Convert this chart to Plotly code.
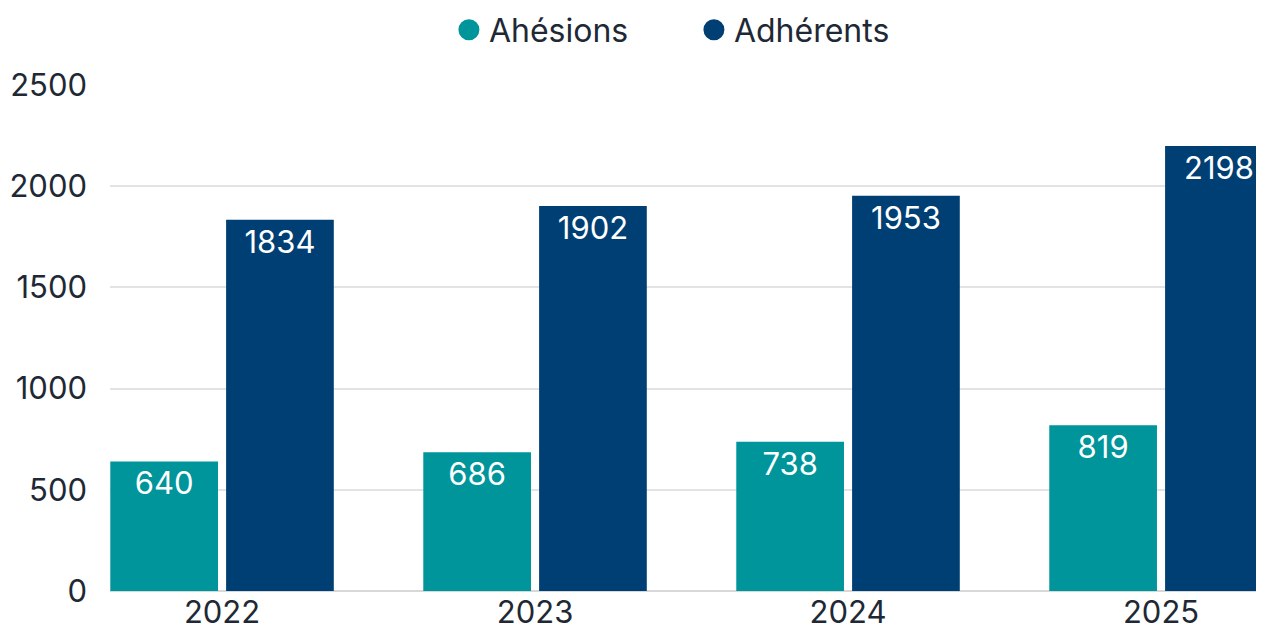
import plotly.graph_objects as go

years = ["2022", "2023", "2024", "2025"]
adhesions = [640, 686, 738, 819]
adherents = [1834, 1902, 1953, 2198]
series_names = ["Ahésions", "Adhérents"]
colors = ["#00959B", "#003F73"]
y_ticks = [0, 500, 1000, 1500, 2000, 2500]

FONT = "Inter, 'Open Sans', sans-serif"
TEXT_COLOR = "#1E2935"

fig = go.Figure()
for name, vals, col in zip(series_names, [adhesions, adherents], colors):
    fig.add_trace(go.Bar(
        x=years, y=vals, name=name, marker_color=col, marker_line_width=0,
        text=[str(v) for v in vals], textposition="inside", insidetextanchor="end",
        textangle=0, textfont=dict(color="white", size=31, family=FONT),
        showlegend=False, cliponaxis=False,
    ))
for name, col in zip(series_names, colors):
    fig.add_trace(go.Scatter(
        x=[None], y=[None], mode="markers", name=name,
        marker=dict(symbol="circle", size=16, color=col, line=dict(color=col, width=8)),
        showlegend=True,
    ))

# page body has an 8px margin; figure is sized to fill the rest of the window
fig.update_layout(
    width=1256, height=627,
    margin=dict(l=102, r=0, t=77, b=44),
    paper_bgcolor="white", plot_bgcolor="white",
    barmode="group", bargap=0.26, bargroupgap=0.07,
    font=dict(family=FONT, color=TEXT_COLOR, size=30),
    legend=dict(orientation="h", x=0.506, xanchor="center", xref="paper",
                y=0.965, yanchor="middle", yref="container",
                font=dict(size=32, color=TEXT_COLOR, family=FONT),
                itemsizing="trace", itemwidth=30, tracegroupgap=0,
                entrywidth=200, entrywidthmode="pixels",
                bgcolor="rgba(0,0,0,0)"),
    xaxis=dict(type="category", range=[-0.358, 3.329], showgrid=False,
               showline=False, zeroline=False, ticks="",
               tickfont=dict(size=31, color=TEXT_COLOR, family=FONT)),
    yaxis=dict(range=[0, 2500], tickvals=y_ticks, showgrid=True,
               gridcolor="#E3E3E3", gridwidth=1.5, zeroline=True,
               zerolinecolor="#D8D8D8", zerolinewidth=1.5, showline=False,
               ticks="", ticklabelstandoff=22,
               tickfont=dict(size=31, color=TEXT_COLOR, family=FONT)),
)

fig.write_html("out.html")
